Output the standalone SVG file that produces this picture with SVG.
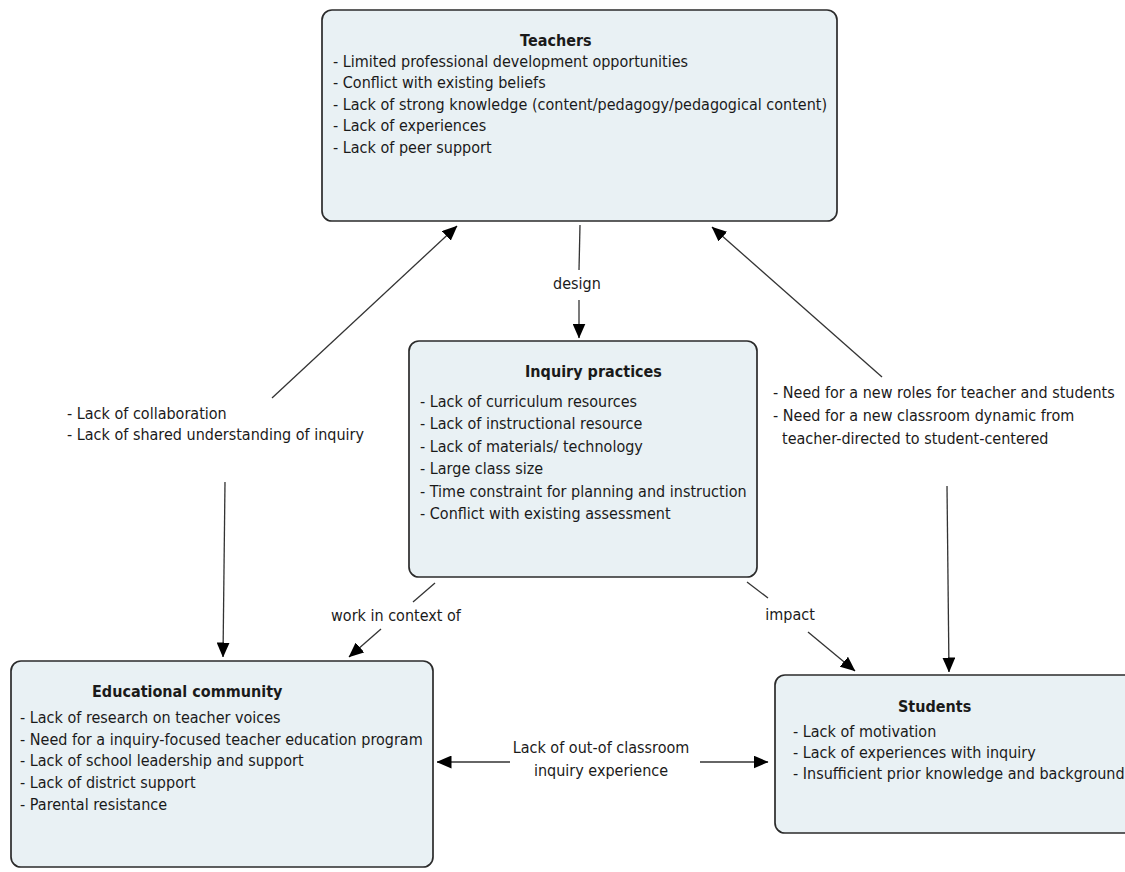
<svg xmlns="http://www.w3.org/2000/svg" width="1125" height="872" viewBox="0 0 1125 872">
<style>
.box{fill:#e9f1f4;stroke:#2b2b2b;stroke-width:1.7}
.t{font-family:"DejaVu Sans","Verdana",sans-serif;font-size:16px;fill:#1a1a1a}
.b{font-weight:bold}
.c{stroke:#333;stroke-width:1.3;fill:none}
</style>
<defs>
<marker id="ah" viewBox="0 0 15 13" refX="14.5" refY="6.5" markerWidth="15" markerHeight="13" markerUnits="userSpaceOnUse" orient="auto">
<path d="M0,0 L15,6.5 L0,13 z" fill="#000"/>
</marker>
</defs>
<rect width="1125" height="872" fill="#fff"/>

<g id="connectors">
<line class="c" x1="580" y1="225" x2="579" y2="270"/>
<line class="c" x1="579" y1="300" x2="579" y2="338" marker-end="url(#ah)"/>
<line class="c" x1="435" y1="583" x2="413" y2="602"/>
<line class="c" x1="381" y1="629" x2="349" y2="657" marker-end="url(#ah)"/>
<line class="c" x1="747" y1="582" x2="768" y2="598"/>
<line class="c" x1="808" y1="632" x2="855" y2="671" marker-end="url(#ah)"/>
<line class="c" x1="225" y1="482" x2="223" y2="657" marker-end="url(#ah)"/>
<line class="c" x1="947" y1="486" x2="949" y2="672" marker-end="url(#ah)"/>
<line class="c" x1="272" y1="398" x2="457" y2="226" marker-end="url(#ah)"/>
<line class="c" x1="882" y1="377" x2="712" y2="227" marker-end="url(#ah)"/>
<line class="c" x1="510" y1="762" x2="437" y2="762" marker-end="url(#ah)"/>
<line class="c" x1="700" y1="762" x2="768" y2="762" marker-end="url(#ah)"/>
<text class="t" text-anchor="middle" transform="translate(577,289) scale(0.9,1)">design</text>
<text class="t" text-anchor="middle" transform="translate(396,621) scale(0.9,1)">work in context of</text>
<text class="t" text-anchor="middle" transform="translate(790,620) scale(0.9,1)">impact</text>
<text class="t" text-anchor="middle" transform="translate(601,753) scale(0.9,1)">Lack of out-of classroom</text>
<text class="t" text-anchor="middle" transform="translate(601,776) scale(0.9,1)">inquiry experience</text>
<text class="t" transform="translate(67,419) scale(0.9,1)"><tspan x="0" y="0">- Lack of collaboration</tspan><tspan x="0" dy="21">- Lack of shared understanding of inquiry</tspan></text>
<text class="t" transform="translate(773,398) scale(0.9,1)"><tspan x="0" y="0">- Need for a new roles for teacher and students</tspan><tspan x="0" dy="23">- Need for a new classroom dynamic from</tspan><tspan x="10" dy="23">teacher-directed to student-centered</tspan></text>
</g>

<g id="teachers">
<rect class="box" x="322" y="10" width="515" height="211" rx="10"/>
<text class="t b" transform="translate(520,46) scale(0.9,1)">Teachers</text>
<text class="t" transform="translate(333,67) scale(0.9,1)"><tspan x="0" y="0">- Limited professional development opportunities</tspan><tspan x="0" dy="21.5">- Conflict with existing beliefs</tspan><tspan x="0" dy="21.5">- Lack of strong knowledge (content/pedagogy/pedagogical content)</tspan><tspan x="0" dy="21.5">- Lack of experiences</tspan><tspan x="0" dy="21.5">- Lack of peer support</tspan></text>
</g>

<g id="inquiry">
<rect class="box" x="409" y="341" width="348" height="236" rx="10"/>
<text class="t b" transform="translate(525,377) scale(0.9,1)">Inquiry practices</text>
<text class="t" transform="translate(420,407) scale(0.9,1)"><tspan x="0" y="0">- Lack of curriculum resources</tspan><tspan x="0" dy="22.5">- Lack of instructional resource</tspan><tspan x="0" dy="22.5">- Lack of materials/ technology</tspan><tspan x="0" dy="22.5">- Large class size</tspan><tspan x="0" dy="22.5">- Time constraint for planning and instruction</tspan><tspan x="0" dy="22.5">- Conflict with existing assessment</tspan></text>
</g>

<g id="community">
<rect class="box" x="11" y="661" width="422" height="206" rx="10"/>
<text class="t b" transform="translate(92,697) scale(0.9,1)">Educational community</text>
<text class="t" transform="translate(20,723) scale(0.9,1)"><tspan x="0" y="0">- Lack of research on teacher voices</tspan><tspan x="0" dy="21.7">- Need for a inquiry-focused teacher education program</tspan><tspan x="0" dy="21.7">- Lack of school leadership and support</tspan><tspan x="0" dy="21.7">- Lack of district support</tspan><tspan x="0" dy="21.7">- Parental resistance</tspan></text>
</g>

<g id="students">
<rect class="box" x="775" y="675" width="360" height="158" rx="10"/>
<text class="t b" transform="translate(898,712) scale(0.9,1)">Students</text>
<text class="t" transform="translate(793,737) scale(0.9,1)"><tspan x="0" y="0">- Lack of motivation</tspan><tspan x="0" dy="21">- Lack of experiences with inquiry</tspan><tspan x="0" dy="21">- Insufficient prior knowledge and background</tspan></text>
</g>
</svg>
